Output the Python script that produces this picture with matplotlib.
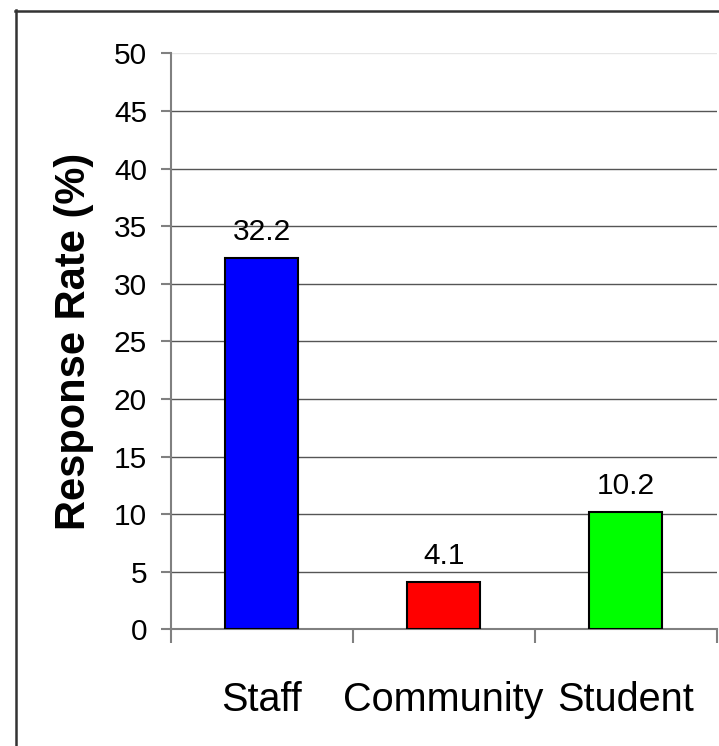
import matplotlib
matplotlib.use("Agg")
import matplotlib.pyplot as plt
from matplotlib.lines import Line2D

# response rates by group
groups = ['Staff', 'Community', 'Student']
rates = [32.2, 4.1, 10.2]
bar_colors = ['#0000ff', '#ff0000', '#00ff00']
y_ticks = list(range(0, 55, 5))

plt.rcParams['font.family'] = ['Liberation Sans', 'DejaVu Sans']

fig = plt.figure(figsize=(7.19, 7.46), dpi=100)
ax = fig.add_axes([0.2374, 0.1564, 0.7594, 0.7719])

x = list(range(len(groups)))
ax.bar(x, rates, width=0.4, color=bar_colors, edgecolor='black',
       linewidth=1.5, zorder=3)

for xi, v in zip(x, rates):
    ax.annotate(f'{v}', (xi, v), xytext=(0, 13), textcoords='offset points',
                ha='center', va='baseline', fontsize=21.5)

ax.set_xlim(-0.5, len(groups) - 0.5)
ax.set_ylim(0, 50)
ax.set_yticks(y_ticks)
ax.yaxis.grid(True, color='#555555', linewidth=1.0, zorder=0)
ax.set_axisbelow(True)
ax.get_ygridlines()[-1].set_color('#e6e6e6')

# labels at category centres, tick marks at category boundaries
ax.set_xticks(x)
ax.set_xticklabels(groups, fontsize=28.5)
ax.set_xticks([i - 0.5 for i in range(len(groups) + 1)], minor=True)
ax.tick_params(axis='x', which='major', length=0, pad=37)
ax.tick_params(axis='x', which='minor', length=10, width=1.5,
               color='#808080', direction='out')
ax.tick_params(axis='y', length=7, width=1.5, color='#808080',
               labelsize=21.5, pad=10)

ax.set_ylabel('Response Rate (%)', fontsize=30, fontweight='bold')
ax.yaxis.set_label_coords(-0.14, 0.5)

for side in ['top', 'right']:
    ax.spines[side].set_visible(False)
for side in ['left', 'bottom']:
    ax.spines[side].set_color('#808080')
    ax.spines[side].set_linewidth(1.5)

# frame around the chart (left and top edges)
W, H = 719, 746
fig.add_artist(Line2D([15.5 / W, 15.5 / W], [0, 1 - 10 / H],
                      color='#333333', linewidth=1.8))
fig.add_artist(Line2D([15 / W, 1], [1 - 10.5 / H, 1 - 10.5 / H],
                      color='#333333', linewidth=1.8))

fig.savefig('out.png', dpi=100)
